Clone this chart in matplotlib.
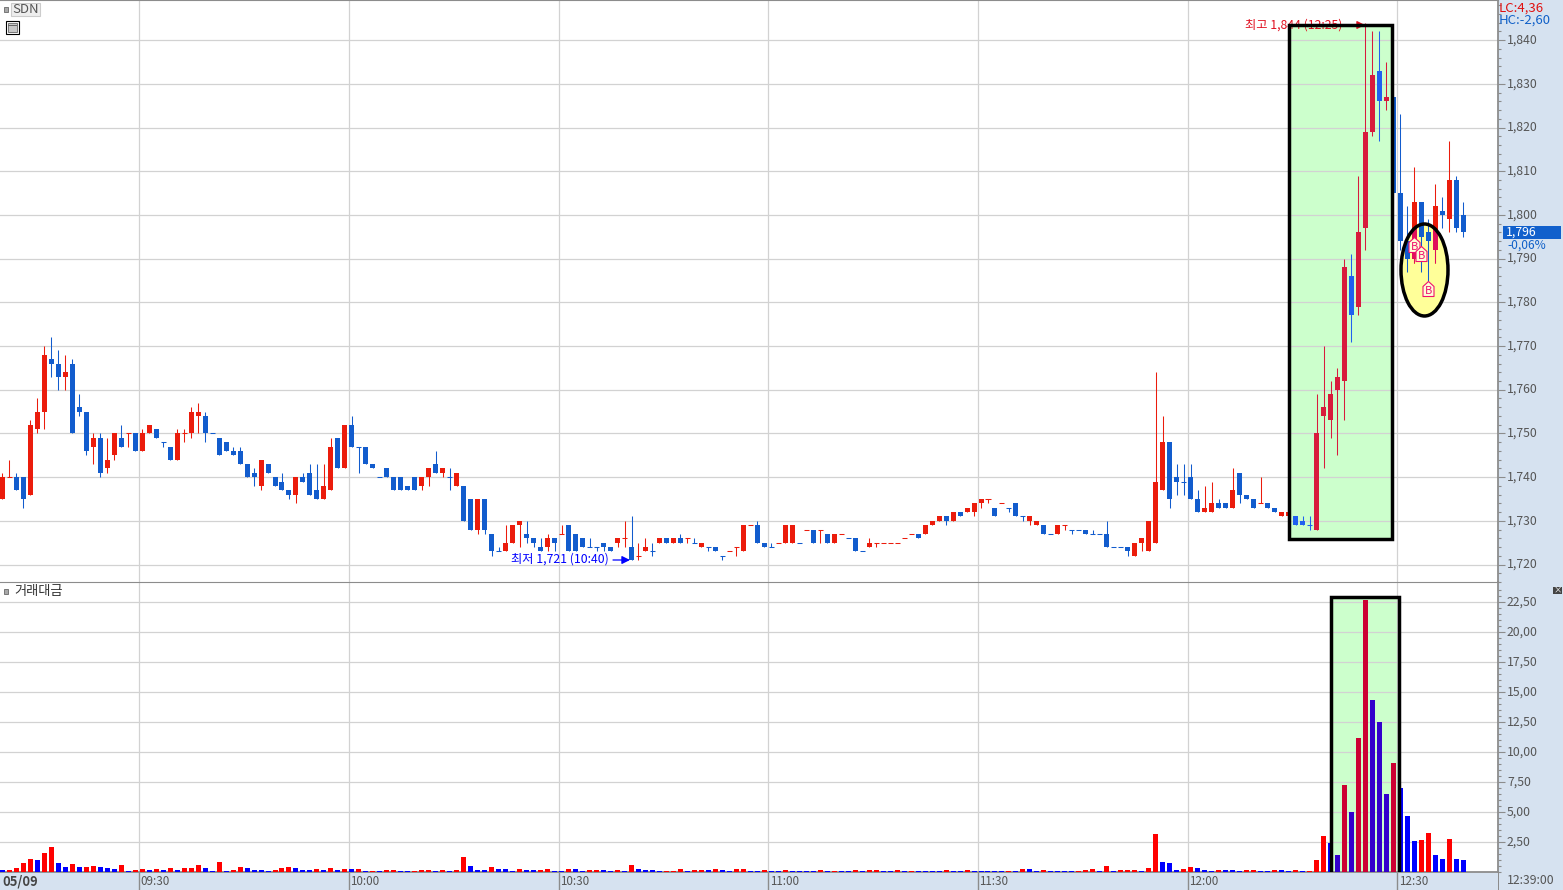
import matplotlib
matplotlib.use('Agg')
import matplotlib.pyplot as plt
from matplotlib.patches import Rectangle, Ellipse
from matplotlib.path import Path
from matplotlib.transforms import Affine2D, ScaledTranslation

plt.rcParams['font.family'] = ['Liberation Sans Narrow', 'Noto Sans CJK KR', 'DejaVu Sans']

# 1 minute candles, 09:10 -> 12:39
opens = [1735,1740,1740,1740,1736,1751,1755,1767,1766,1763,1766,1756,1755,1747,1749,1742,1745,1749,1750,1750,
         1746,1750,1751,1748,1747,1744,1750,1750,1754,1754,1750,1749,1748,1746,1746,1743,1741,1738,1743,1740,
         1739,1737,1736,1740,1741,1737,1735,1737,1749,1742,1752,1747,1747,1743,1740,1742,1740,1740,1738,1740,
         1738,1740,1743,1741,1740,1738,1738,1735,1728,1735,1727,1723,1723,1725,1729,1727,1726,1724,1724,1726,
         1727,1729,1727,1726,1724,1724,1725,1724,1725,1726,1724,1722,1723,1723,1725,1726,1725,1726,1726,1725,
         1724,1724,1724,1722,1723,1724,1723,1729,1729,1725,1724,1725,1725,1725,1725,1728,1728,1728,1727,1725,
         1727,1726,1726,1723,1724,1725,1725,1725,1725,1726,1727,1727,1727,1729,1730,1731,1730,1732,1732,1732,
         1734,1735,1733,1734,1733,1734,1731,1730,1729,1729,1727,1727,1729,1728,1728,1728,1727,1727,1727,1724,
         1724,1724,1722,1725,1723,1725,1737,1748,1740,1739,1740,1735,1732,1732,1734,1734,1733,1741,1736,1735,
         1734,1734,1733,1731,1731,1731,1730,1729,1728,1754,1753,1760,1762,1786,1779,1797,1819,1833,1826,1827,
         1805,1794,1790,1803,1796,1792,1801,1799,1808,1800]
highs = [1741,1744,1741,1740,1753,1758,1770,1772,1769,1768,1767,1759,1755,1750,1750,1749,1750,1752,1750,1750,
         1751,1752,1751,1748,1747,1751,1751,1756,1757,1755,1750,1749,1748,1747,1747,1743,1742,1744,1743,1740,
         1741,1737,1740,1741,1743,1743,1743,1749,1749,1752,1754,1747,1747,1743,1740,1742,1740,1740,1738,1740,
         1740,1742,1746,1742,1742,1741,1738,1735,1735,1735,1727,1724,1729,1729,1730,1730,1726,1726,1727,1726,
         1729,1729,1727,1726,1726,1724,1725,1724,1726,1730,1731,1725,1726,1725,1726,1726,1726,1727,1726,1726,
         1725,1724,1724,1722,1723,1724,1729,1729,1730,1725,1725,1725,1729,1729,1725,1728,1728,1728,1727,1727,
         1727,1726,1726,1723,1726,1725,1725,1725,1725,1726,1727,1727,1729,1730,1731,1731,1732,1732,1733,1734,
         1735,1735,1733,1734,1733,1734,1731,1731,1730,1729,1727,1729,1729,1728,1728,1728,1728,1727,1730,1724,
         1724,1724,1725,1726,1730,1764,1754,1748,1743,1743,1743,1737,1738,1739,1735,1734,1742,1741,1736,1735,
         1740,1734,1733,1732,1732,1731,1731,1731,1759,1770,1762,1765,1790,1791,1809,1844,1842,1842,1835,1827,
         1823,1802,1811,1803,1799,1807,1804,1817,1809,1803]
lows = [1735,1740,1737,1733,1736,1750,1751,1763,1760,1760,1750,1754,1745,1743,1740,1741,1744,1747,1747,1746,
        1746,1750,1749,1747,1744,1744,1748,1749,1750,1748,1750,1745,1746,1745,1743,1740,1738,1737,1741,1738,
        1737,1735,1734,1739,1736,1735,1735,1737,1742,1742,1747,1741,1743,1742,1740,1740,1737,1737,1737,1737,
        1737,1738,1741,1740,1737,1738,1730,1728,1727,1727,1722,1723,1723,1725,1724,1725,1724,1723,1723,1723,
        1727,1723,1723,1724,1724,1723,1723,1723,1724,1724,1721,1721,1723,1722,1725,1725,1725,1725,1725,1725,
        1724,1723,1723,1721,1723,1722,1723,1729,1725,1724,1724,1725,1725,1725,1725,1728,1725,1725,1725,1725,
        1727,1726,1723,1723,1724,1724,1725,1725,1725,1726,1727,1726,1727,1729,1730,1729,1730,1731,1732,1731,
        1733,1734,1731,1734,1732,1731,1730,1729,1729,1727,1727,1727,1728,1727,1728,1727,1727,1727,1724,1724,
        1724,1722,1722,1723,1723,1725,1737,1733,1736,1736,1735,1732,1732,1732,1733,1733,1733,1734,1735,1733,
        1734,1733,1732,1731,1731,1729,1729,1728,1728,1742,1749,1745,1753,1771,1777,1792,1818,1817,1824,1805,
        1792,1787,1789,1787,1785,1789,1797,1796,1796,1795]
closes = [1740,1740,1737,1735,1752,1755,1768,1766,1763,1764,1750,1755,1746,1749,1741,1744,1750,1747,1750,1746,
          1750,1752,1749,1748,1744,1750,1750,1755,1755,1750,1750,1745,1746,1745,1743,1740,1740,1744,1741,1738,
          1737,1736,1740,1739,1736,1735,1738,1747,1742,1752,1747,1747,1743,1742,1740,1740,1737,1737,1737,1737,
          1740,1742,1741,1742,1740,1741,1730,1728,1735,1728,1723,1723,1725,1729,1730,1726,1725,1723,1726,1725,
          1727,1723,1723,1724,1724,1724,1724,1723,1726,1726,1721,1722,1724,1723,1726,1725,1726,1725,1726,1725,
          1725,1724,1723,1722,1723,1724,1729,1729,1725,1724,1724,1725,1729,1729,1725,1728,1725,1728,1725,1727,
          1727,1726,1723,1723,1725,1725,1725,1725,1725,1726,1727,1726,1729,1730,1731,1730,1732,1731,1733,1734,
          1735,1735,1731,1734,1733,1731,1731,1731,1730,1727,1727,1729,1729,1728,1728,1727,1727,1727,1724,1724,
          1724,1723,1725,1726,1730,1739,1748,1735,1739,1739,1735,1732,1733,1734,1733,1733,1737,1736,1735,1733,
          1734,1733,1732,1732,1732,1729,1729,1729,1750,1756,1759,1763,1788,1777,1796,1819,1832,1826,1827,1805,
          1794,1790,1803,1795,1794,1802,1800,1808,1797,1796]
# open == close candles, colour can't be taken from the body
red_doji = [1,18,26,80,89,91,98,104,105,107,111,115,117,120,125,126,127,128,129,130,141,143,152,180]

# 거래대금
volumes = [.17,.17,.33,.75,1.08,1.0,1.58,2.08,.75,.42,
           .67,.42,.42,.5,.42,.33,.25,.58,.08,.17,
           .25,.17,.25,.17,.33,.17,.33,.33,.58,.33,
           .08,.83,.08,.17,.42,.33,.17,.15,.08,.17,
           .33,.42,.33,.17,.15,.25,.17,.33,.17,.25,
           .24,.25,.06,.07,.06,.17,.18,.08,.07,.08,
           .17,.18,.08,.17,.08,.17,1.25,.5,.17,.16,
           .42,.25,.22,.1,.25,.17,.16,.17,.25,.08,
           .07,.25,.24,.08,.17,.18,.17,.08,.17,.08,
           .58,.25,.2,.17,.06,.07,.08,.25,.08,.17,
           .18,.17,.25,.17,.08,.25,.26,.08,.07,.17,
           .08,.07,.17,.09,.08,.07,.06,.17,.08,.09,
           .07,.06,.17,.08,.17,.18,.08,.07,.17,.08,
           .09,.08,.07,.06,.05,.17,.06,.05,.17,.09,
           .08,.07,.06,.05,.07,.06,.25,.24,.08,.17,
           .08,.07,.06,.05,.07,.17,.25,.06,.5,.06,
           .17,.18,.19,.08,.33,3.17,.83,.75,.17,.25,
           .42,.33,.17,.08,.17,.16,.15,.08,.17,.18,
           .08,.07,.17,.14,.06,.14,.06,.07,.97,2.98,
           2.4,1.39,7.24,4.99,11.17,22.7,14.35,12.5,6.49,9.08,
           6.99,4.65,2.56,2.65,3.23,1.39,1.06,2.73,1.06,.97]

price_ticks = [1720,1730,1740,1750,1760,1770,1780,1790,1800,1810,1820,1830,1840]
price_labels = ['1,720','1,730','1,740','1,750','1,760','1,770','1,780','1,790','1,800','1,810','1,820','1,830','1,840']
vol_ticks = [2.5,5,7.5,10,12.5,15,17.5,20,22.5]
vol_labels = ['2,50','5,00','7,50','10,00','12,50','15,00','17,50','20,00','22,50']
time_index = [20,50,80,110,140,170,200]
time_labels = ['09:30','10:00','10:30','11:00','11:30','12:00','12:30']
buy_index = [202,203,204]
buy_price = [1794.9,1792.8,1784.9]

RED = '#EB1C0C'
BLUE = '#125CCD'
GRID = '#D2D2D2'
BAND = '#D6E2F0'
AXIS = '#8C8C8C'
TXT = '#555555'

W, H = 1563, 890
fig = plt.figure(figsize=(W/100, H/100), dpi=100, facecolor=BAND)
px = Affine2D().scale(1/W, -1/H).translate(0, 1) + fig.transFigure

ax1 = fig.add_axes([0, 1-582/H, 1498/W, 582/H])
ax2 = fig.add_axes([0, 18/H, 1498/W, 290/H])
x_lim = (-2.4/6.99, (1498-2.4)/6.99)
up_1px = ScaledTranslation(0, 1.2/72, fig.dpi_scale_trans)

for ax in (ax1, ax2):
    ax.set_facecolor('white')
    ax.set_xlim(x_lim)
    ax.set_xticks([i-0.43 for i in time_index])
    ax.grid(True, color=GRID, linewidth=0.9, zorder=1)
    ax.set_axisbelow(True)
    ax.yaxis.tick_right()
    ax.spines['left'].set_visible(False)
    ax.spines['right'].set_color(AXIS)
    ax.spines['right'].set_linewidth(1.3)
    ax.spines['top'].set_color(AXIS)
    ax.spines['bottom'].set_color(AXIS)
    ax.spines['bottom'].set_linewidth(1.3)
    ax.tick_params(axis='y', which='major', length=5, width=0.8, color=AXIS, labelcolor=TXT, labelsize=8.8, pad=1.5)
    ax.tick_params(axis='y', which='minor', length=2.5, width=0.8, color=AXIS)

ax1.set_ylim(1840-(582-40.3)/4.382, 1840+40.3/4.382)
ax1.set_yticks(price_ticks)
ax1.set_yticklabels(price_labels)
ax1.set_yticks(range(1716, 1850, 2), minor=True)
ax1.tick_params(axis='x', length=0, labelbottom=False)
ax1.spines['bottom'].set_visible(False)

ax2.set_ylim(0, 290/12)
ax2.set_yticks(vol_ticks)
ax2.set_yticklabels(vol_labels)
ax2.set_yticks([i*0.5 for i in range(0, 48)], minor=True)
ax2.tick_params(axis='x', length=13, width=1, color=AXIS, labelbottom=False)
for i, lab in zip(time_index, time_labels):
    ax2.annotate(lab, (i-0.43, 0), xycoords=ax2.get_xaxis_transform(), xytext=(1, -6.5), textcoords='offset points',
                 va='center', ha='left', fontsize=8.4, color=TXT)

for ax in (ax1, ax2):
    for lab in ax.get_yticklabels():
        lab.set_transform(lab.get_transform() + up_1px)

# green boxes, border goes over the candles
ax1.add_patch(Rectangle((1288.7, 24.7), 103.6, 514.3, transform=px, facecolor='#CCFFCC', edgecolor='none', zorder=0.5))
ax1.add_patch(Rectangle((1288.7, 24.7), 103.6, 514.3, transform=px, fill=False, edgecolor='black', linewidth=2.5, zorder=6))
ax2.add_patch(Rectangle((1331, 596.7), 68, 280, transform=px, facecolor='#CCFFCC', edgecolor='none', zorder=0.5))
ax2.add_patch(Rectangle((1331, 596.7), 68, 280, transform=px, fill=False, edgecolor='black', linewidth=2.5, zorder=6))

oval = Ellipse((1424.5, 270), 47, 92, transform=px, facecolor='#FFFF99', edgecolor='none', zorder=1.5)
ax1.add_patch(oval)
ax1.add_patch(Ellipse((1424.5, 270), 47, 92, transform=px, fill=False, edgecolor='black', linewidth=2.5, zorder=6))

# candles
for i in range(len(opens)):
    up = closes[i] > opens[i] or (closes[i] == opens[i] and i in red_doji)
    col = RED if up else BLUE
    if 185 <= i <= 198:
        col = '#D81B3C' if up else '#2060F0'
    ax1.vlines(i, lows[i], highs[i], colors=col, linewidth=0.75, zorder=2)
    if opens[i] == closes[i]:
        ax1.hlines(opens[i], i-0.36, i+0.36, colors=col, linewidth=0.75, zorder=2)
    else:
        ax1.bar(i, abs(closes[i]-opens[i]), bottom=min(opens[i], closes[i]), width=5/6.99, color=col, linewidth=0, zorder=3)

# red candles turn pink inside the oval
for i in (202, 205):
    wick = ax1.vlines(i, lows[i], highs[i], colors='#E0105A', linewidth=0.75, zorder=3.1)
    wick.set_clip_path(oval)
    b = ax1.bar(i, closes[i]-opens[i], bottom=opens[i], width=5/6.99, color='#E0105A', linewidth=0, zorder=3.2)
    b[0].set_clip_path(oval)

# volume bars, red when up from previous minute
for i, v in enumerate(volumes):
    up = i > 0 and v >= volumes[i-1]
    col = '#FF0000' if up else '#0000FF'
    if 191 <= i <= 199:
        col = '#CC0033' if up else '#3300CC'
    ax2.bar(i, v, width=5/6.99, color=col, linewidth=0, zorder=3)

# buy markers
house = Path([(0, 0), (5.5, -5), (5.5, -15), (-5.5, -15), (-5.5, -5), (0, 0)], closed=True)
ax1.plot(buy_index, buy_price, linestyle='none', marker=house, markersize=21.6, markerfacecolor='#FFFFD8',
         markeredgecolor='#F0106E', markeredgewidth=0.8, zorder=5)
for i, p in zip(buy_index, buy_price):
    ax1.annotate('B', (i, p), xytext=(0, -7), textcoords='offset points', ha='center', va='center',
                 fontsize=8, color='#F0106E', zorder=5.5)

# high / low labels
ax1.text(1245, 25.5, '최고 1,844 (12:25)', transform=px, color='#E01020', fontsize=8.8, va='center', ha='left', zorder=4)
ax1.annotate('', xy=(1365, 25), xytext=(1346, 25), xycoords=px, textcoords=px, zorder=4,
             arrowprops=dict(arrowstyle='-|>', color='#E01020', lw=0.9, shrinkA=0, shrinkB=0, mutation_scale=12))
ax1.text(511, 559.5, '최저 1,721 (10:40)', transform=px, color='#0000FF', fontsize=8.8, va='center', ha='left', zorder=4)
ax1.annotate('', xy=(630, 560), xytext=(613, 560), xycoords=px, textcoords=px, zorder=4,
             arrowprops=dict(arrowstyle='-|>', color='#0000FF', lw=0.9, shrinkA=0, shrinkB=0, mutation_scale=12))

# header widgets
def fig_rect(x, y, w, h, **kw):
    fig.add_artist(Rectangle((x, y), w, h, transform=px, **kw))

def fig_text(x, y, s, **kw):
    fig.text(x, y, s, transform=px, va='center', **kw)

fig_rect(3.5, 6.5, 4.5, 5.5, facecolor='#A8A8A8', edgecolor='#777777', linewidth=0.7, zorder=8)
fig_rect(11, 3, 29, 13, facecolor='#EEEEEE', edgecolor='#CCCCCC', linewidth=0.8, zorder=8)
fig_text(25.5, 9.5, 'SDN', color=TXT, fontsize=9.5, ha='center', zorder=9)
fig_rect(5.5, 20.5, 13, 13, facecolor='white', edgecolor='black', linewidth=0.8, zorder=8)
fig_rect(7.5, 22.5, 9, 9, facecolor='#C8C8C8', edgecolor='#666666', linewidth=0.6, zorder=9)
for xg in (10.5, 13.5):
    fig_rect(xg, 22.5, 0.5, 9, facecolor='#666666', edgecolor='none', zorder=10)
fig_rect(7.5, 25, 9, 0.5, facecolor='#666666', edgecolor='none', zorder=10)

fig_rect(3.5, 588.5, 4.5, 5.5, facecolor='#A8A8A8', edgecolor='#777777', linewidth=0.7, zorder=8)
fig_text(14, 591, '거래대금', color='#333333', fontsize=9.5, ha='left', zorder=9)
fig_rect(1553, 587, 9, 7, facecolor='#444444', edgecolor='none', zorder=8)
fig_text(1557.5, 590.3, '×', color='white', fontsize=6, ha='center', zorder=9)

# right side readouts
fig_text(1499, 8, 'LC:4,36', color='#E01010', fontsize=9.5, ha='left', zorder=9)
fig_text(1499, 20.5, 'HC:-2,60', color='#1060C8', fontsize=9.5, ha='left', zorder=9)
fig_rect(1503, 226, 58, 13, facecolor='#1160CC', edgecolor='none', zorder=8)
fig_text(1506, 232.5, '1,796', color='white', fontsize=8.8, ha='left', zorder=9)
fig_text(1507, 245, '-0,06%', color='#1060C8', fontsize=8.6, ha='left', zorder=9)

# bottom band
fig_text(2, 881, '05/09', color='#444444', fontsize=9.3, fontweight='bold', ha='left', zorder=9)
fig_text(1507, 881, '12:39:00', color=TXT, fontsize=8.8, ha='left', zorder=9)
fig_rect(1498, 872, 1, 18, facecolor=AXIS, edgecolor='none', zorder=8)

fig.savefig('out.png', dpi=100, facecolor=fig.get_facecolor())
